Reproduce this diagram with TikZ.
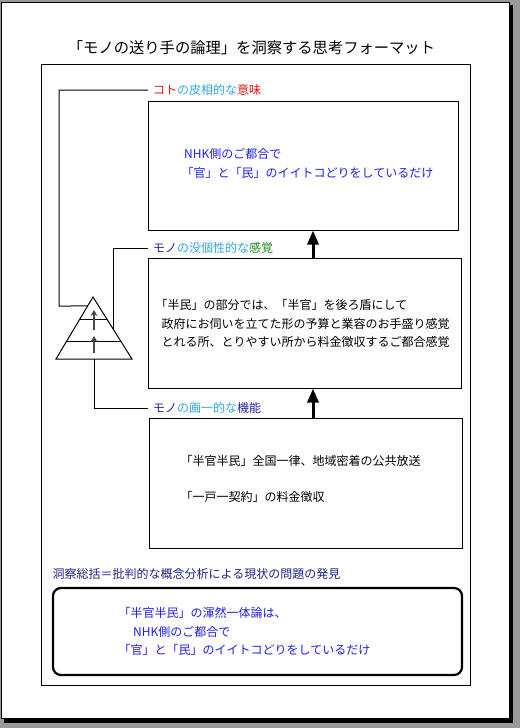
\documentclass[tikz,border=0pt]{standalone}
\usepackage{fontspec}
\setmainfont{Noto Sans CJK JP}
\usepackage{tikz}
\usetikzlibrary{arrows.meta}
\usetikzlibrary{calc}
\definecolor{kotored}{HTML}{E01818}
\definecolor{lightblue}{HTML}{30A8E0}
\definecolor{monoblue}{HTML}{2424A8}
\definecolor{sensegreen}{HTML}{208A20}
\definecolor{textblue}{HTML}{1E1EF0}
\definecolor{sumnavy}{HTML}{20208C}

\begin{document}
\begin{tikzpicture}[x=1pt,y=-1pt,
        box/.style={draw,line width=1pt,inner sep=0pt},
        txt/.style={font=\fontsize{12}{19}\selectfont,inner sep=0pt,anchor=west,align=left},
        tag/.style={font=\fontsize{12}{19}\selectfont,inner xsep=5pt,inner ysep=0pt,anchor=west},
        wire/.style={line width=1pt},
        bigarrow/.style={line width=3pt,-{Triangle[width=11pt,length=14pt]}},
        smallarrow/.style={line width=2pt,black!72,-{Stealth[width=7pt,length=6pt]}}]

        \useasboundingbox (0,0) rectangle (520,728);
        \fill[black!40] (0,0) rectangle (520,728);
        \fill[black] (4,5) rectangle (513,723);
        \filldraw[fill=white,draw=black,line width=0.8pt] (1.5,2.5) rectangle (509,718.5);
        \draw[wire] (41,64) rectangle (470,685);

        \node[font=\fontsize{15.3}{18}\selectfont] (title) at (251.5,48) {「モノの送り手の論理」を洞察する思考フォーマット};

        \node[box,minimum width=310pt,minimum height=129pt]  (meanbox)  at (303,165.5)   {};
        \node[box,minimum width=313pt,minimum height=130pt]  (sensebox) at (304.5,323)   {};
        \node[box,minimum width=313pt,minimum height=130pt]  (funcbox)  at (305.5,483)   {};
        \node[box,line width=2.2pt,rounded corners=8pt,minimum width=409pt,minimum height=87pt] (sumbox) at (257.5,631.5) {};

        \node[tag] (koto)  at (148,90)  {{\color{kotored}コト}{\color{lightblue}の皮相的な}{\color{kotored}意味}};
        \node[tag] (sense) at (148,248) {{\color{monoblue}モノ}{\color{lightblue}の没個性的な}{\color{sensegreen}感覚}};
        \node[tag] (func)  at (148,408) {{\color{monoblue}モノ}{\color{lightblue}の画一的な}{\color{monoblue}機能}};

        \node[txt,textblue] (meantext)  at (181.5,163.5) {\hspace*{2.5pt}NHK側のご都合で\\「官」と「民」のイイトコどりをしているだけ};
        \node[txt,font=\fontsize{12}{18.5}\selectfont] (sensetext) at (161.5,323.5) {\hspace*{-6pt}「半民」の部分では、「半官」を後ろ盾にして\\政府にお伺いを立てた形の予算と業容のお手盛り感覚\\とれる所、とりやすい所から料金徴収するご都合感覚};
        \node[txt] (functext)  at (180.5,479) {「半官半民」全国一律、地域密着の公共放送\\[17pt]「一戸一契約」の料金徴収};

        \node[txt,sumnavy] (sumhead) at (52.5,574) {洞察総括＝批判的な概念分析による現状の問題の発見};
        \node[txt,textblue,font=\fontsize{12}{18.7}\selectfont] (sumtext) at (118.5,631.5) {「半官半民」の渾然一体論は、\\\hspace*{14.5pt}NHK側のご都合で\\「官」と「民」のイイトコどりをしているだけ};

        \coordinate (apex)  at (93,297);
        \coordinate (baseL) at (56,359);
        \coordinate (baseR) at (132,359);
        \draw[wire] (apex) -- (baseL) -- (baseR) -- cycle;
        \draw[wire] ($(apex)!0.37!(baseL)$) -- ($(apex)!0.37!(baseR)$);
        \draw[wire] ($(apex)!0.71!(baseL)$) -- ($(apex)!0.71!(baseR)$);
        \draw[smallarrow] (94,330) -- (94,310);
        \draw[smallarrow] (94,353) -- (94,336);

        \coordinate (kotoTurn) at (59,306);
        \coordinate (pyrL) at ($(apex)!0.145!(baseL)$);
        \coordinate (pyrR) at ($(apex)!0.53!(baseR)$);
        \coordinate (pyrB) at ($(baseL)!0.5!(baseR)$);
        \draw[wire] (koto.west) -| (kotoTurn) -- (pyrL);
        \draw[wire] (pyrR) |- (sense.west);
        \draw[wire] (pyrB) |- (func.west);

        \coordinate (ax) at (313,0);
        \draw[bigarrow] (funcbox.north -| ax)  -- (sensebox.south -| ax);
        \draw[bigarrow] (sensebox.north -| ax) -- (meanbox.south -| ax);
      \end{tikzpicture}
\end{document}
